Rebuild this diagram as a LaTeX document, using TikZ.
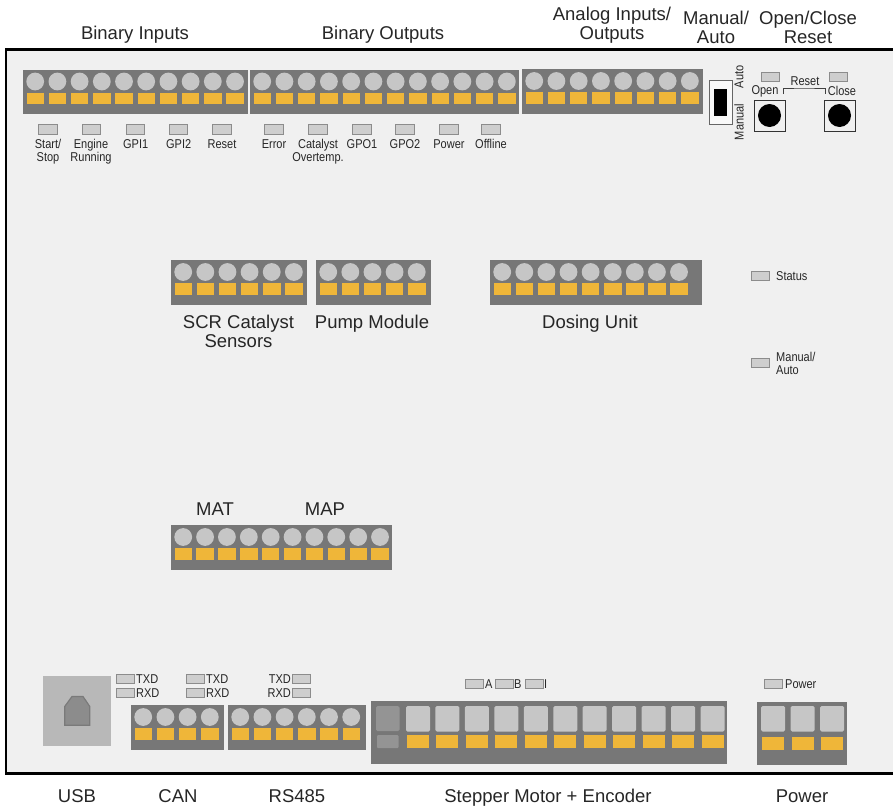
\documentclass[tikz,border=0pt]{standalone}
\usepackage{fontspec}
\setmainfont{Liberation Sans}
\newfontfamily\narrowfont[FakeStretch=0.86]{Liberation Sans}
\usepackage{xcolor}
\definecolor{boardGrey}{HTML}{F0F0F0}
\definecolor{stripGrey}{HTML}{777777}
\definecolor{pinGrey}{HTML}{C6C6C6}
\definecolor{lampGrey}{HTML}{CECECE}
\definecolor{pinOrange}{HTML}{EFB639}
\definecolor{ledEdge}{HTML}{8C8C8C}
\usepackage{tikz}

\tikzset{
  biglabel/.style={font=\fontsize{18.5}{19}\selectfont, align=center, inner sep=0pt, anchor=base, text=black!85},
  smalllabel/.style={font=\narrowfont\fontsize{12.8}{13.4}\selectfont, align=center, inner sep=0pt, text=black!85},
  ledbox/.style={fill=lampGrey, draw=ledEdge, line width=0.8pt},
  pushbox/.style={draw=black!80, line width=1pt}
}

\begin{document}
\begin{tikzpicture}[x=1pt, y=-1pt]
  \useasboundingbox (0,0) rectangle (893,808);
  \draw[fill=boardGrey, draw=black, line width=2.4pt] (6,49.5) rectangle (895,773.5);
  % ------- round terminal strips: left / top / width / pins / pitch -------
  \foreach \x/\y/\w/\n/\p in {23/69.5/224.5/10/22.2,250/69.5/269/12/22.24,522/69/181/8/22.24,171/260/136/6/22.13,316/260/115/5/22.13,490/260/212/9/22.1,171/525/221/10/21.87,131/705/93/4/22.2,228/705/138/6/22.2} {
    \fill[stripGrey] (\x,\y) rectangle ++(\w,44.6);
    \foreach \i in {1,...,\n} {
      \fill[pinGrey] ({\x+12.2+(\i-1)*\p},{\y+12}) circle (8.9);
      \fill[pinOrange] ({\x+3.6+(\i-1)*\p},{\y+23}) rectangle ++(17.4,11.8);
    }
  }
  % ------- square terminal strips -------
  \fill[stripGrey] (371,701) rectangle (727,764);
  \fill[black!42, rounded corners=1.5pt] (376,706) rectangle (399.5,731);
  \fill[black!42, rounded corners=1pt] (377,735) rectangle (398.5,748);
  \foreach \i in {0,...,10} {
    \fill[pinGrey, rounded corners=1.5pt] ({406+\i*29.45},706) rectangle ++(24,25.5);
    \fill[pinOrange] ({407+\i*29.45},735) rectangle ++(22,13);
  }
  \fill[stripGrey] (757,702) rectangle (847,765);
  \foreach \i in {0,1,2} {
    \fill[pinGrey, rounded corners=1.5pt] ({761+\i*29.5},706) rectangle ++(24,25.5);
    \fill[pinOrange] ({762+\i*29.5},737) rectangle ++(22,12.5);
  }
  % ------- USB socket -------
  \fill[black!28] (43,676) rectangle (111,746);
  \draw[fill=black!45, draw=black!52, line width=1.2pt] (64.7,725.3) -- (64.7,706.5) -- (72,696.5) -- (83,696.5) -- (89.8,706.5) -- (89.8,725.3) -- cycle;
  % ------- switch and push buttons -------
  \draw[fill=boardGrey!40!white, draw=black!60, line width=0.9pt] (709,80) rectangle (732,124);
  \fill[black] (714,89) rectangle (727,116);
  \foreach \x in {754,824} {
    \draw[pushbox] (\x,100) rectangle ++(31,31);
    \fill[black] ({\x+15.5},115.5) circle (11.5);
  }
  \coordinate (resetL) at (783,94);
  \coordinate (resetR) at (825,94);
  \draw[black!75, line width=0.7pt] (resetL) |- (804,88) -| (resetR);
  % ------- indicator lamps -------
  \foreach \x in {48,91.5,135.5,178.5,222,274,318,362,405,449,491}
    \draw[ledbox] ({\x-9.3},124.5) rectangle ++(18.6,9.5);
  \foreach \x/\y in {761/72,829/72,751/271,751/358,116/674,116/688,186/674,186/688,292/674,292/688,465/679,495/679,525/679,764/679}
    \draw[ledbox] (\x,\y) rectangle ++(18.4,9.5);
  % ------- lamp labels -------
  \foreach \x/\t [count=\c] in {48/{Start/\\Stop},91/{Engine\\Running},135.7/GPI1,178.7/GPI2,222/Reset,274/Error,318/{Catalyst\\Overtemp.},362/GPO1,405/GPO2,449/Power,491/Offline}
    \node[smalllabel, anchor=north] (lamp\c) at (\x,139) {\t};
  \node[smalllabel, rotate=90] (autoTxt) at (739,77) {Auto};
  \node[smalllabel, rotate=90] (manualTxt) at (739,122) {Manual};
  \node[smalllabel] (openTxt) at (765,91) {Open};
  \node[smalllabel] (closeTxt) at (842,91) {Close};
  \node[smalllabel] (resetTxt) at (805,81) {Reset};
  \node[smalllabel, anchor=west] (statusTxt) at (776,276.5) {Status};
  \node[smalllabel, anchor=west, align=left] (manAutoTxt) at (776,363.2) {Manual/\\Auto};
  \foreach \x/\y/\t [count=\c] in {136/679/TXD,136/693/RXD,206/679/TXD,206/693/RXD,485/684/A,514/684/B,544/684/I,785/684.5/Power}
    \node[smalllabel, anchor=west] (sideTxt\c) at (\x,\y) {\t};
  \node[smalllabel, anchor=east] (rsTx) at (291,679) {TXD};
  \node[smalllabel, anchor=east] (rsRx) at (291,693) {RXD};
  % ------- headings -------
  \foreach \x/\y/\t [count=\c] in {135/39.3/Binary Inputs,383/39.3/Binary Outputs,612/40/{Analog Inputs/\\Outputs},716/43.3/{Manual/\\Auto},808/43.3/{Open/Close\\Reset},238.5/347.3/{SCR Catalyst\\Sensors},372/328.5/Pump Module,590/328.8/Dosing Unit,215/515.7/MAT,325/515.7/MAP,77/802.7/USB,178/802.7/CAN,297/802.7/RS485,548/802.7/Stepper Motor + Encoder,802/802.7/Power}
    \node[biglabel] (head\c) at (\x,\y) {\t};
\end{tikzpicture}
\end{document}
